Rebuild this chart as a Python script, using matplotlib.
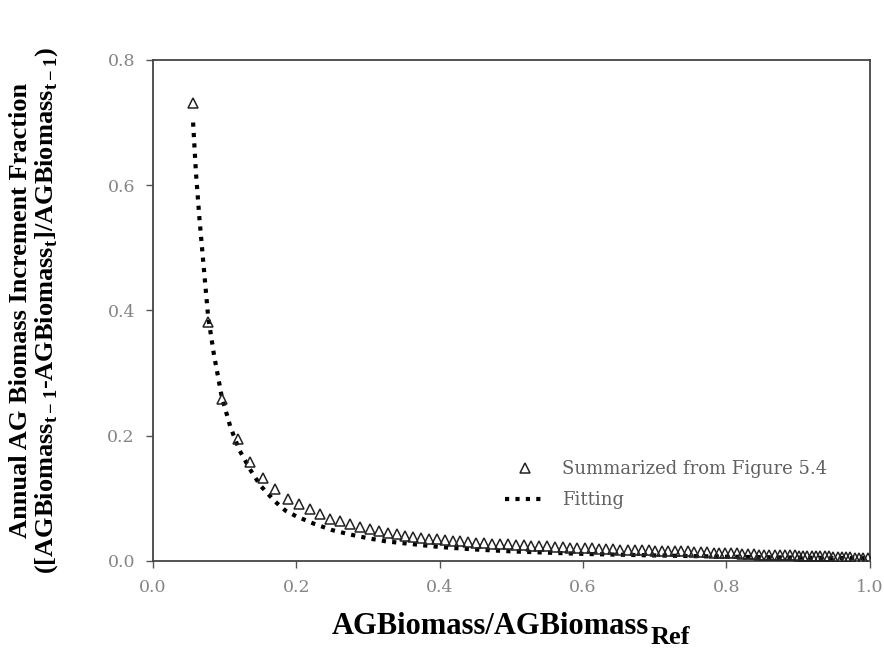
import matplotlib
matplotlib.use("Agg")
import matplotlib.pyplot as plt

# Triangles ("Summarized from Figure 5.4")
obs_x = [0.056, 0.077, 0.096, 0.118, 0.136, 0.154, 0.170, 0.189, 0.204, 0.219,
         0.233, 0.247, 0.261, 0.275, 0.289, 0.303, 0.315, 0.328, 0.340, 0.351,
         0.363, 0.374, 0.385, 0.396, 0.407, 0.418, 0.429, 0.440, 0.451, 0.462,
         0.473, 0.484, 0.495, 0.506, 0.517, 0.528, 0.539, 0.550, 0.561, 0.572,
         0.582, 0.592, 0.602, 0.612, 0.622, 0.632, 0.642, 0.652, 0.662, 0.672,
         0.682, 0.692, 0.701, 0.710, 0.719, 0.728, 0.737, 0.746, 0.755, 0.764,
         0.773, 0.782, 0.790, 0.798, 0.806, 0.814, 0.822, 0.830, 0.838, 0.846,
         0.853, 0.860, 0.867, 0.874, 0.881, 0.888, 0.895, 0.901, 0.907, 0.913,
         0.919, 0.925, 0.931, 0.937, 0.943, 0.949, 0.955, 0.961, 0.967, 0.973,
         0.979, 0.985, 0.991, 0.997]
obs_y = [0.731, 0.381, 0.258, 0.194, 0.157, 0.132, 0.115, 0.099, 0.090, 0.082,
         0.074, 0.067, 0.063, 0.058, 0.054, 0.051, 0.048, 0.045, 0.043, 0.040,
         0.038, 0.036, 0.035, 0.034, 0.033, 0.032, 0.031, 0.030, 0.029, 0.028,
         0.027, 0.026, 0.026, 0.025, 0.025, 0.024, 0.023, 0.023, 0.022, 0.022,
         0.021, 0.021, 0.020, 0.020, 0.019, 0.019, 0.019, 0.018, 0.018, 0.017,
         0.017, 0.017, 0.016, 0.016, 0.016, 0.015, 0.015, 0.015, 0.014, 0.014,
         0.014, 0.013, 0.013, 0.012, 0.012, 0.012, 0.011, 0.011, 0.011, 0.010,
         0.010, 0.010, 0.010, 0.009, 0.009, 0.009, 0.009, 0.008, 0.008, 0.008,
         0.008, 0.007, 0.007, 0.007, 0.007, 0.006, 0.006, 0.006, 0.006, 0.006,
         0.005, 0.005, 0.005, 0.005]

# Dotted fitting curve
fit_x = [0.056, 0.060, 0.065, 0.070, 0.077, 0.085, 0.096, 0.108, 0.120, 0.136,
         0.150, 0.170, 0.185, 0.200, 0.225, 0.250, 0.275, 0.300, 0.325, 0.350,
         0.400, 0.450, 0.500, 0.600, 0.700, 0.800, 0.900, 1.000]
fit_y = [0.700, 0.620, 0.545, 0.480, 0.390, 0.330, 0.262, 0.214, 0.178, 0.145,
         0.120, 0.095, 0.080, 0.071, 0.059, 0.049, 0.042, 0.036, 0.031, 0.028,
         0.022, 0.018, 0.015, 0.011, 0.0085, 0.0065, 0.005, 0.004]

x_ticks = [0.0, 0.2, 0.4, 0.6, 0.8, 1.0]
y_ticks = [0.0, 0.2, 0.4, 0.6, 0.8]

plt.rcParams["font.family"] = ["Liberation Serif", "DejaVu Serif"]
plt.rcParams["mathtext.fontset"] = "custom"
plt.rcParams["mathtext.rm"] = "Liberation Serif"
plt.rcParams["mathtext.bf"] = "Liberation Serif:bold"

fig = plt.figure(figsize=(8.84, 6.66), dpi=100)
ax = fig.add_axes([0.173, 0.158, 0.811, 0.752])

ax.plot(fit_x, fit_y, color="black", lw=3.0, linestyle=(0, (1, 1.5)),
        dash_capstyle="butt", label="Fitting", zorder=2)
ax.plot(obs_x, obs_y, linestyle="none", marker="^", ms=6.5, mfc="none",
        mec="#222222", mew=1.1, label="Summarized from Figure 5.4", zorder=3)

ax.set_xlim(0, 1.0)
ax.set_ylim(0, 0.8)
ax.set_xticks(x_ticks)
ax.set_yticks(y_ticks)
ax.set_xticklabels([f"{v:.1f}" for v in x_ticks])
ax.set_yticklabels([f"{v:.1f}" for v in y_ticks])
ax.tick_params(direction="out", length=5, width=1, colors="#555555",
               labelsize=12.5, labelcolor="#858585", pad=8)
for t in ax.get_xticklabels() + ax.get_yticklabels():
    t.set_family("DejaVu Serif")
for s in ax.spines.values():
    s.set_color("#444444")
    s.set_linewidth(1.3)

ax.set_xlabel("AGBiomass/AGBiomass", fontsize=22, fontweight="bold",
              labelpad=12)
ax.set_ylabel("Annual AG Biomass Increment Fraction\n"
              r"([AGBiomass$_{\mathbf{t-1}}$-AGBiomass$_{\mathbf{t}}$]/AGBiomass$_{\mathbf{t-1}}$)",
              fontsize=19, fontweight="bold", labelpad=34, linespacing=1.05)

handles, labels = ax.get_legend_handles_labels()
leg = ax.legend(handles[::-1], labels[::-1], loc="lower left",
                bbox_to_anchor=(0.468, 0.07), frameon=False,
                prop={"family": "DejaVu Serif", "size": 13},
                handlelength=2.2, labelspacing=0.75, handletextpad=1.0)
for t in leg.get_texts():
    t.set_color("#606060")

# shift the xlabel left so the "Ref" subscript sits after it, centred overall
fig.canvas.draw()
xl = ax.xaxis.label
xl.set_position((xl.get_position()[0] - 0.03, xl.get_position()[1]))
fig.canvas.draw()
bb = xl.get_window_extent()
fig.text(bb.x1 / fig.bbox.width + 0.002, bb.y0 / fig.bbox.height - 0.012,
         "Ref", fontsize=19, fontweight="bold", ha="left", va="bottom")

fig.savefig("out.png", dpi=100)
